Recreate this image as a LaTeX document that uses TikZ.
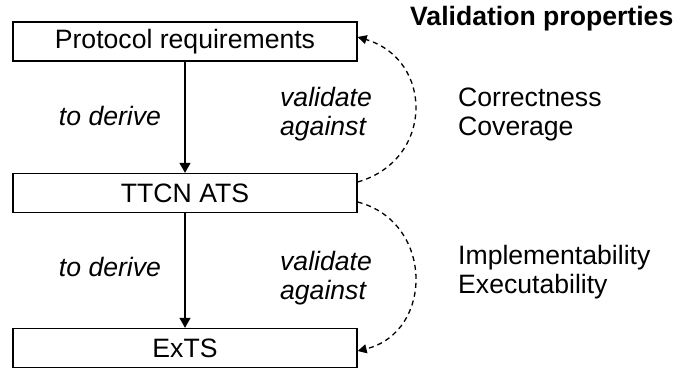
\documentclass[tikz,border=0pt]{standalone}
\usepackage{fontspec}
\setmainfont{Liberation Sans}
\usetikzlibrary{arrows.meta,calc}
\begin{document}
\begin{tikzpicture}[x=1pt,y=1pt,
  box/.style={draw,line width=1.3pt,minimum width=344pt,minimum height=39pt,inner sep=0pt,font=\fontsize{26.6}{30}\selectfont},
  lbl/.style={font=\fontsize{26.6}{29.5}\selectfont\itshape,align=left,inner sep=0pt},
  prop/.style={font=\fontsize{26.6}{29}\selectfont,align=left,anchor=west,inner sep=0pt},
  derive/.style={line width=1.3pt,-{Triangle[length=10pt,width=11pt]}},
  valid/.style={line width=1.3pt,dash pattern=on 5pt off 4pt,-{Triangle[length=9pt,width=9pt]}}]
\useasboundingbox (0,0) rectangle (679,369);
\node[box] (pr) at (185,327.5) {Protocol requirements};
\node[box] (ats) at (185,176) {TTCN ATS};
\node[box] (exts) at (185,21) {ExTS};
\draw[derive] (pr) -- (ats);
\draw[derive] (ats) -- (exts);
\node[lbl] (d1) at (110,253) {to derive};
\node[lbl] (d2) at (110,102) {to derive};
\node[lbl] (v1) at (326,255) {validate\\against};
\node[lbl] (v2) at (326,91) {validate\\against};
\coordinate (s1) at ($(ats.east)+(0,11)$);
\coordinate (e1) at ($(pr.east)+(0,4.5)$);
\coordinate (s2) at ($(ats.east)+(0,-9)$);
\coordinate (e2) at ($(exts.east)+(0,-3)$);
\draw[valid] (s1) .. controls (434,209) and (434,309) .. (e1);
\draw[valid] (s2) .. controls (434,147) and (434,37) .. (e2);
\node[font=\fontsize{26.6}{30}\selectfont\bfseries,anchor=west,inner sep=0pt] (vp) at (410,350) {Validation properties};
\node[prop] (c1) at (458,255) {Correctness\\Coverage};
\node[prop] (c2) at (458,97) {Implementability\\Executability};
\end{tikzpicture}
\end{document}
